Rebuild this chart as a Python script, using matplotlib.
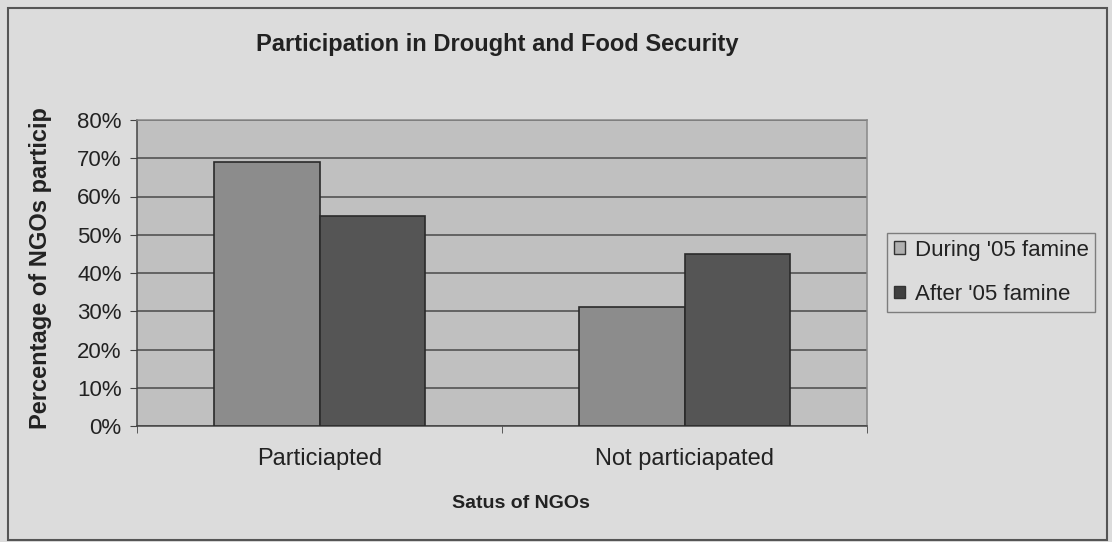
import matplotlib
matplotlib.use("Agg")
import matplotlib.pyplot as plt
from matplotlib.patches import Rectangle, Patch
from matplotlib.ticker import PercentFormatter

categories = ["Particiapted", "Not particiapated"]
series_names = ["During '05 famine", "After '05 famine"]
during_vals = [69, 31]
after_vals = [55, 45]
y_ticks = [0, 10, 20, 30, 40, 50, 60, 70, 80]

plt.rcParams["font.family"] = ["Liberation Sans", "DejaVu Sans"]

W, H = 1112, 542
fig = plt.figure(figsize=(W / 100, H / 100), dpi=100)
bg = "#dcdcdc"
fig.patch.set_facecolor(bg)

# outer frame
fig.add_artist(Rectangle((8 / W, 2 / H), 1099 / W, 532 / H, transform=fig.transFigure,
                         fill=False, edgecolor="#555555", linewidth=1.5))

ax = fig.add_axes([137 / W, 1 - 426 / H, 730 / W, 306 / H])
ax.set_facecolor("#c0c0c0")

x = list(range(len(categories)))
bw = 0.29
ax.bar([i - bw / 2 for i in x], during_vals, width=bw, color="#8c8c8c",
       edgecolor="#2a2a2a", linewidth=1.2, zorder=3)
ax.bar([i + bw / 2 for i in x], after_vals, width=bw, color="#555555",
       edgecolor="#2a2a2a", linewidth=1.2, zorder=3)

ax.set_xlim(-0.5, len(categories) - 0.5)
ax.set_ylim(0, 80)
ax.set_yticks(y_ticks)
ax.yaxis.set_major_formatter(PercentFormatter(decimals=0))
ax.grid(axis="y", color="#4a4a4a", linewidth=1.1, zorder=1)
ax.set_axisbelow(True)

ax.set_xticks(x)
ax.set_xticklabels(categories, fontsize=17, color="#222222")
ax.tick_params(axis="x", length=0, pad=16)
ax.set_xticks([-0.5, 0.5, 1.5], minor=True)
ax.tick_params(axis="x", which="minor", length=5, color="#444444", direction="out")
ax.tick_params(axis="y", length=5, color="#444444", direction="out", labelsize=16,
               labelcolor="#222222", pad=6)

for s in ax.spines.values():
    s.set_color("#444444")
    s.set_linewidth(1.1)
ax.spines["right"].set_color("#888888")
ax.spines["top"].set_color("#888888")

fig.text(497 / W, 1 - 44 / H, "Participation in Drought and Food Security",
         ha="center", va="center", fontsize=17, fontweight="bold", color="#222222")
fig.text(521 / W, 1 - 504 / H, "Satus of NGOs", ha="center", va="center",
         fontsize=14, fontweight="bold", color="#222222")
fig.text(41 / W, 1 - 268 / H, "Percentage of NGOs particip", ha="center", va="center",
         rotation=90, fontsize=17, fontweight="bold", color="#222222")

handles = [Patch(facecolor="#b0b0b0", edgecolor="#333333", linewidth=1.0),
           Patch(facecolor="#404040", edgecolor="#333333", linewidth=1.0)]
leg = fig.legend(handles, series_names, loc="upper left",
                 bbox_to_anchor=(887 / W, 1 - 233 / H), fontsize=16,
                 frameon=True, fancybox=False, facecolor=bg, edgecolor="#666666",
                 handlelength=0.5, handleheight=0.5, handletextpad=0.45,
                 borderpad=0.3, labelspacing=1.05, borderaxespad=0)
leg.get_frame().set_linewidth(1.0)
for t in leg.get_texts():
    t.set_color("#222222")

fig.savefig("out.png", dpi=100, facecolor=bg)
